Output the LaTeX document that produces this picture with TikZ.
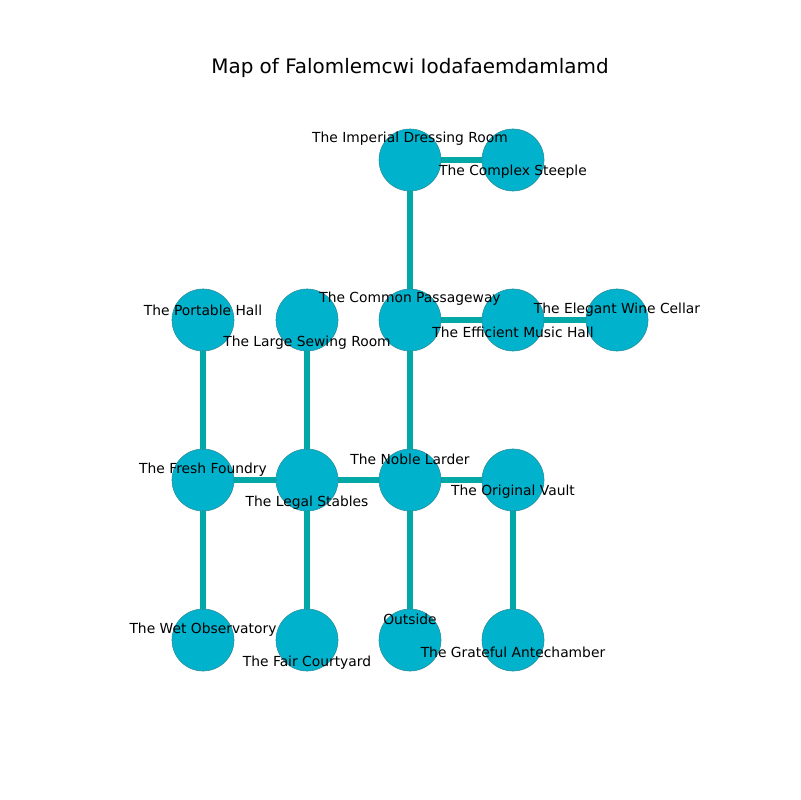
\documentclass[tikz,border=0pt]{standalone}
\usepackage{fontspec}
\setmainfont{DejaVu Sans}
\usetikzlibrary{backgrounds}
\definecolor{roomfill}{HTML}{00B2CC}
\definecolor{roomline}{HTML}{2E8C99}
\definecolor{passage}{HTML}{00A8A8}
\tikzset{
  room/.style={circle,draw=roomline,line width=0.4pt,fill=roomfill,minimum size=0.62in,inner sep=0pt},
  roomtext/.style={font=\fontsize{10}{12}\selectfont,inner sep=0pt,anchor=center,yshift=-1.5pt},
  passway/.style={passage,line width=4pt},
}

\begin{document}
\begin{tikzpicture}[x=0.01in,y=-0.01in]
\useasboundingbox (0,0) rectangle (800,800);

% --- title ---
\node[font=\fontsize{14.4}{16}\selectfont] (title) at (410,68) {Map of Falomlemcwi Iodafaemdamlamd};

% --- rooms ---
\node[room] (imperial) at (410,160) {};
\node[room] (steeple)  at (513,160) {};
\node[room] (portable) at (203,320) {};
\node[room] (sewing)   at (307,320) {};
\node[room] (common)   at (410,320) {};
\node[room] (music)    at (513,320) {};
\node[room] (cellar)   at (617,320) {};
\node[room] (foundry)  at (203,480) {};
\node[room] (stables)  at (307,480) {};
\node[room] (larder)   at (410,480) {};
\node[room] (vault)    at (513,480) {};
\node[room] (observ)   at (203,640) {};
\node[room] (court)    at (307,640) {};
\node[room] (outside)  at (410,640) {};
\node[room] (antech)   at (513,640) {};

% --- passages ---
\begin{scope}[on background layer]
\foreach \a/\b in {imperial/steeple, imperial/common, portable/foundry, sewing/stables,
                   common/music, music/cellar, common/larder, foundry/stables,
                   stables/larder, larder/vault, foundry/observ, stables/court,
                   larder/outside, vault/antech}
  \draw[passway] (\a) -- (\b);
\end{scope}

% --- labels ---
\node[roomtext] (imperial-t) at (410,137) {The Imperial Dressing Room};
\node[roomtext] (steeple-t)  at (513,170) {The Complex Steeple};
\node[roomtext] (portable-t) at (203,308) {The Portable Hall};
\node[roomtext] (sewing-t)   at (307,341) {The Large Sewing Room};
\node[roomtext] (common-t)   at (410,297) {The Common Passageway};
\node[roomtext] (music-t)    at (513,330) {The Efficient Music Hall};
\node[roomtext] (cellar-t)   at (617,308) {The Elegant Wine Cellar};
\node[roomtext] (foundry-t)  at (203,468) {The Fresh Foundry};
\node[roomtext] (stables-t)  at (307,501) {The Legal Stables};
\node[roomtext] (larder-t)   at (410,457) {The Noble Larder};
\node[roomtext] (vault-t)    at (513,490) {The Original Vault};
\node[roomtext] (observ-t)   at (203,628) {The Wet Observatory};
\node[roomtext] (court-t)    at (307,661) {The Fair Courtyard};
\node[roomtext] (outside-t)  at (410,617) {Outside};
\node[roomtext] (antech-t)   at (513,650) {The Grateful Antechamber};

\end{tikzpicture}
\end{document}
